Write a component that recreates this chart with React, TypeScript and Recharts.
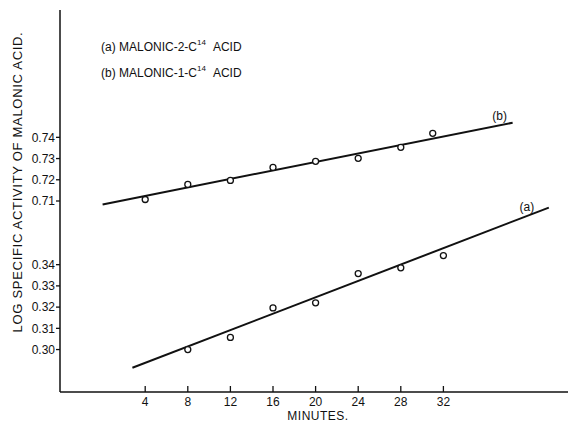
import React from 'react';
import { ComposedChart, Line, Scatter, XAxis, YAxis, LabelList } from 'recharts';

// ---- data ----
const MINUTE_TICKS = [4, 8, 12, 16, 20, 24, 28, 32];
const Y_UPPER_TICKS = [0.71, 0.72, 0.73, 0.74];
const Y_LOWER_TICKS = [0.3, 0.31, 0.32, 0.33, 0.34];
const BREAK_OFFSET = 0.34; // lower panel values are shifted up by this on the broken axis

const minutesA = [8, 12, 16, 20, 24, 28, 32];
const valuesA = [0.3, 0.3057, 0.3196, 0.322, 0.3358, 0.3385, 0.3443];
const minutesB = [4, 8, 12, 16, 20, 24, 28, 31];
const valuesB = [0.7107, 0.7178, 0.7197, 0.7258, 0.7287, 0.7301, 0.7353, 0.7419];

const fitAMinutes = [2.8, 41.9];
const fitAValues = [0.2914, 0.3669];
const fitBMinutes = [0, 38.5];
const fitBValues = [0.7084, 0.7469];

const LEGEND = ['(a) MALONIC-2-C', '(b) MALONIC-1-C'];
const Y_TITLE = 'LOG SPECIFIC ACTIVITY OF MALONIC ACID.';
const X_TITLE = 'MINUTES.';

// ---- derived tables ----
const shift = (v: number) => +(v + BREAK_OFFSET).toFixed(5);
const pointsA = minutesA.map((m, i) => ({ x: m, y: shift(valuesA[i]) }));
const pointsB = minutesB.map((m, i) => ({ x: m, y: valuesB[i] }));
const fitA = fitAMinutes.map((m, i) => ({ x: m, y: shift(fitAValues[i]), name: i === 1 ? '(a)' : '' }));
const fitB = fitBMinutes.map((m, i) => ({ x: m, y: fitBValues[i], name: i === 1 ? '(b)' : '' }));
const yTicks = [...Y_LOWER_TICKS.map(shift), ...Y_UPPER_TICKS];
const yFmt = (v: number) => (v < 0.7 ? (v - BREAK_OFFSET).toFixed(2) : v.toFixed(2));

const FONT = '"Liberation Sans", Arial, sans-serif';
const INK = '#111';

const BottomTick = (props: any) => {
  const { x, y, payload } = props;
  return (
    <g>
      <line x1={x} x2={x} y1={y} y2={y - 6} stroke={INK} strokeWidth={1.3} />
      <text x={x} y={y + 14} textAnchor="middle" fontSize={12} fontFamily={FONT} fill={INK}>
        {payload.value}
      </text>
    </g>
  );
};

const TopTick = (props: any) => {
  const { x, y } = props;
  return <line x1={x} x2={x} y1={y} y2={y + 6} stroke={INK} strokeWidth={1.3} />;
};

const Circle = (props: any) => (
  <circle cx={props.cx} cy={props.cy} r={3} fill="#fff" stroke={INK} strokeWidth={1.3} />
);

const endLabel = (dx: number, dy: number) => (props: any) => {
  const { x, y, value } = props;
  if (!value) return null;
  return (
    <text x={x + dx} y={y + dy} textAnchor="middle" fontSize={12} fontFamily={FONT} fill={INK}>
      {value}
    </text>
  );
};

const YTitle = () => (
  <text
    x={17}
    y={182}
    transform="rotate(-90 17 182)"
    textAnchor="middle"
    dominantBaseline="central"
    fontSize={13}
    letterSpacing={0.7}
    fontFamily={FONT}
    fill={INK}
  >
    {Y_TITLE}
  </text>
);

const XTitle = () => (
  <text x={318} y={420} textAnchor="middle" fontSize={12} letterSpacing={0.5} fontFamily={FONT} fill={INK}>
    {X_TITLE}
  </text>
);

export default function App() {
  return (
    <div style={{ position: 'absolute', left: 0, top: 0, width: 568, height: 423, background: '#fff' }}>
      <ComposedChart width={568} height={423} margin={{ top: 10, right: 0, bottom: 0, left: 0 }}>
        <XAxis
          xAxisId={0}
          type="number"
          dataKey="x"
          domain={[-4, 43.7]}
          allowDataOverflow
          ticks={MINUTE_TICKS}
          interval={0}
          tickSize={0}
          tickMargin={0}
          tick={<BottomTick />}
          axisLine={{ stroke: INK, strokeWidth: 1.5 }}
          height={31}
          label={{ content: () => <XTitle /> }}
        />
        <XAxis
          xAxisId="top"
          orientation="top"
          type="number"
          dataKey="x"
          domain={[-4, 43.7]}
          allowDataOverflow
          ticks={MINUTE_TICKS}
          interval={0}
          tickSize={0}
          tickMargin={0}
          tick={<TopTick />}
          axisLine={{ stroke: INK, strokeWidth: 1.5 }}
          height={0}
        />
        <YAxis
          type="number"
          domain={[0.62, 0.8]}
          allowDataOverflow
          ticks={yTicks}
          interval={0}
          tickFormatter={yFmt}
          width={60}
          tickSize={4}
          tickMargin={1}
          tick={{ fontSize: 12, fontFamily: FONT, fill: INK }}
          tickLine={{ stroke: INK, strokeWidth: 1.3 }}
          axisLine={{ stroke: INK, strokeWidth: 1.5 }}
          label={{ content: () => <YTitle /> }}
        />
        <Line
          data={fitB}
          dataKey="y"
          type="linear"
          stroke={INK}
          strokeWidth={2}
          dot={false}
          isAnimationActive={false}
        >
          <LabelList dataKey="name" content={endLabel(-13, -3)} />
        </Line>
        <Line
          data={fitA}
          dataKey="y"
          type="linear"
          stroke={INK}
          strokeWidth={2}
          dot={false}
          isAnimationActive={false}
        >
          <LabelList dataKey="name" content={endLabel(-22, 3)} />
        </Line>
        <Scatter data={pointsB} dataKey="y" shape={<Circle />} isAnimationActive={false} />
        <Scatter data={pointsA} dataKey="y" shape={<Circle />} isAnimationActive={false} />
      </ComposedChart>
      {LEGEND.map((t, i) => (
        <div
          key={t}
          style={{
            position: 'absolute',
            left: 101,
            top: 39 + i * 26,
            fontFamily: FONT,
            fontSize: 12,
            lineHeight: '16px',
            color: INK,
            whiteSpace: 'nowrap',
          }}
        >
          {t}
          <span style={{ fontSize: 8, position: 'relative', top: -6 }}>14</span>
          <span style={{ marginLeft: 7 }}>ACID</span>
        </div>
      ))}
    </div>
  );
}
